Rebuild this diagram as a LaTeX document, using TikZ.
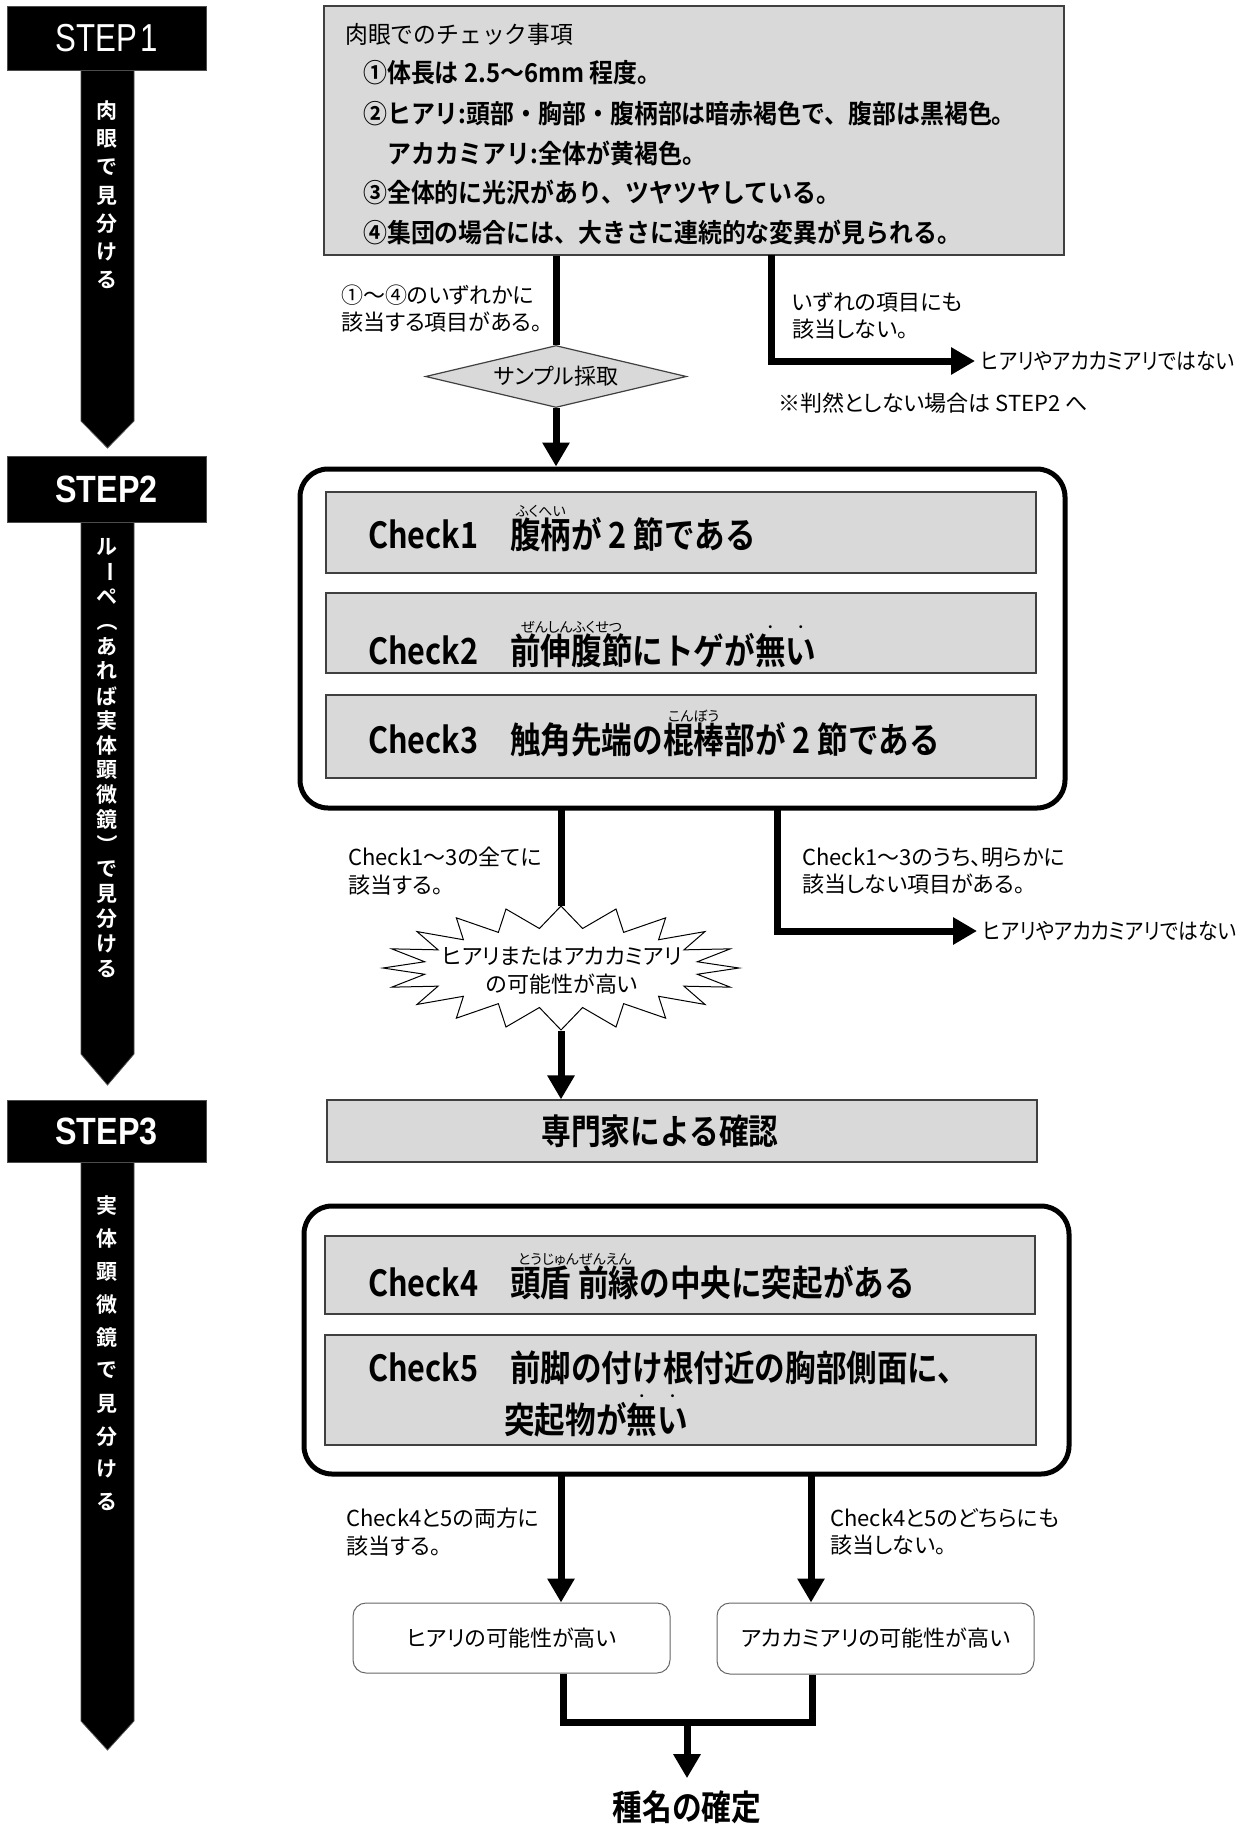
\documentclass[tikz,border=0pt]{standalone}
\usepackage{fontspec}
\usetikzlibrary{arrows.meta,shapes.geometric,calc}
\newfontfamily\jpr{Noto Sans CJK JP}[RawFeature=+palt]
\newfontfamily\jprs{Noto Sans CJK JP}[FakeStretch=0.88,RawFeature=+palt]
\newfontfamily\jprn{Noto Sans CJK JP}[FakeStretch=0.95]
\newfontfamily\jpb{Noto Sans CJK JP Bold}[FakeStretch=0.85]
\newfontfamily\jpbt{Noto Sans CJK JP Bold}[FakeStretch=0.92]
\newfontfamily\jpv{Noto Sans CJK JP Bold}
\newfontfamily\stepA{Liberation Sans}[FakeStretch=0.8]
\newfontfamily\stepB{Liberation Sans Bold}[FakeStretch=0.85]
\definecolor{boxgray}{HTML}{D9D9D9}
\newbox\rbbase
\newcommand\rbfont{\jpr\fontsize{14}{14}\selectfont}
\newcommand\rb[2]{\leavevmode\setbox\rbbase\hbox{#1}\hbox to\wd\rbbase{\hss\smash{\raisebox{32pt}{\makebox[0pt]{\rbfont #2}}}\hss}\kern-\wd\rbbase\box\rbbase}
\newcommand\bt[1]{\rb{#1}{・}}
\tikzset{
  graybox/.style={draw=black!75, line width=1.2pt, fill=boxgray, inner sep=0pt},
  bigframe/.style={draw=black, line width=5pt, rounded corners=28pt, inner sep=0pt},
  resbox/.style={draw=black!60, line width=1pt, rounded corners=13pt, fill=white, inner sep=0pt, font=\jpr\fontsize{22}{22}\selectfont},
  conn/.style={line width=7pt},
  arr/.style={line width=7pt, -{Triangle[length=24pt,width=26pt]}},
  lbl/.style={font=\jpr\fontsize{22}{27.5}\selectfont, align=left, inner sep=0pt},
  nolbl/.style={font=\jprs\fontsize{22.5}{22.5}\selectfont, anchor=west, inner sep=0pt},
  topline/.style={font=\jpbt\fontsize{26}{26}\selectfont, anchor=west, inner sep=0pt},
  checktext/.style={font=\jpb\fontsize{36}{36}\selectfont, anchor=base west, inner sep=0pt},
  stepbox/.style={fill=black, draw=black!70, line width=0.8pt, minimum width=199pt, inner sep=0pt, text=white},
  shaft/.style={fill=black, draw=black!70, line width=0.8pt},
  vch/.style={text=white, font=\jpv\fontsize{21}{21}\selectfont, inner sep=0pt},
}
\begin{document}
\begin{tikzpicture}[x=1pt,y=-1pt]
\useasboundingbox (0,0) rectangle (1248,1825);
\fill[white] (0,0) rectangle (1248,1825);

% ---------- left step arrows ----------
\draw[shaft] (81,60) -- (134,60) -- (134,421) -- (107.5,448) -- (81,421) -- cycle;
\draw[shaft] (81,515) -- (134,515) -- (134,1054) -- (107.5,1085) -- (81,1054) -- cycle;
\draw[shaft] (81,1155) -- (134,1155) -- (134,1721) -- (107.5,1750) -- (81,1721) -- cycle;
\node[stepbox, minimum height=64pt, font=\stepA\fontsize{39}{39}\selectfont] (step1) at (106.5,38) {STEP\kern3pt1};
\node[stepbox, minimum height=66pt, font=\stepB\fontsize{38}{38}\selectfont] (step2) at (106.5,489) {STEP2};
\node[stepbox, minimum height=62pt, font=\stepB\fontsize{38}{38}\selectfont] (step3) at (106.5,1131) {STEP3};

\foreach \c [count=\i from 0] in {肉,眼,で,見,分,け,る}
  \node[vch] (va\i) at (107,{111+28.2*\i}) {\c};
\foreach \c/\r [count=\i from 0] in {ル/0,ー/-90,ペ/0,（/-90,あ/0,れ/0,ば/0,実/0,体/0,顕/0,微/0,鏡/0,）/-90,で/0,見/0,分/0,け/0,る/0}
  \node[vch, rotate=\r] (vb\i) at (107,{547+24.8*\i}) {\c};
\foreach \c [count=\i from 0] in {実,体,顕,微,鏡,で,見,分,け,る}
  \node[vch] (vc\i) at (107,{1206+32.9*\i}) {\c};

% ---------- STEP1 ----------
\node[graybox, minimum width=740pt, minimum height=249pt] (topbox) at (694,130.5) {};
\node[anchor=west, inner sep=0pt, font=\jprn\fontsize{24}{24}\selectfont] (t0) at (345,34) {肉眼でのチェック事項};
\node[topline] (t1) at (363,73) {①体長は 2.5～6mm 程度。};
\node[topline] (t2) at (363,114) {②ヒアリ:頭部・胸部・腹柄部は暗赤褐色で、腹部は黒褐色。};
\node[topline] (t3) at (387,153) {アカカミアリ:全体が黄褐色。};
\node[topline] (t4) at (363,192) {③全体的に光沢があり、ツヤツヤしている。};
\node[topline] (t5) at (363,232) {④集団の場合には、大きさに連続的な変異が見られる。};

\node[diamond, aspect=4.2, draw=black!75, line width=1.2pt, fill=boxgray, minimum width=261pt, minimum height=62pt, inner sep=0pt, font=\jpr\fontsize{22}{22}\selectfont] (samp) at (556,376.5) {サンプル採取};

\node[lbl, anchor=west] (l1) at (341,308.5) {①～④のいずれかに\\該当する項目がある。};
\node[lbl, anchor=west] (l2) at (792,316) {いずれの項目にも\\該当しない。};
\node[nolbl] (no1) at (981,361) {ヒアリやアカカミアリではない};
\node[lbl, anchor=west] (note) at (778,403) {※判然としない場合は STEP2 へ};

\coordinate (r1) at (771,255);
\draw[conn] (topbox.south -| samp.north) -- (samp.north);
\draw[arr] (r1) |- ([xshift=-6pt]no1.west);

% ---------- STEP2 ----------
\node[bigframe, minimum width=765pt, minimum height=339pt] (frame2) at (682.5,638.5) {};
\draw[arr] (samp.south) -- (samp.south |- frame2.north);
\node[graybox, minimum width=710pt, minimum height=81pt] (c1) at (681,532.5) {};
\node[graybox, minimum width=710pt, minimum height=80pt] (c2) at (681,633) {};
\node[graybox, minimum width=710pt, minimum height=83pt] (c3) at (681,736.5) {};
\node[checktext] (c1t) at (368,548) {\makebox[142pt][l]{Check1}\rb{腹柄}{ふくへい}が 2 節である};
\node[checktext] (c2t) at (368,664) {\makebox[142pt][l]{Check2}\rb{前伸腹節}{ぜんしんふくせつ}にトゲが\bt{無}\bt{い}};
\node[checktext] (c3t) at (368,753) {\makebox[142pt][l]{Check3}触角先端の\rb{棍棒}{こんぼう}部が 2 節である};

\coordinate (l2top) at (561,808);
\coordinate (r2) at (777,808);
\coordinate (startop) at (561,906);
\coordinate (starbot) at (561,1031);
\draw[fill=white, line width=1pt, shift={(561,968)}]
  ({178*cos(90)},{-62*sin(90)})
  \foreach \k in {0,...,19} {
    -- ({138*cos(90+18*\k+9)},{-40*sin(90+18*\k+9)})
    -- ({178*cos(90+18*\k+18)},{-62*sin(90+18*\k+18)})
  } -- cycle;
\node[font=\jpr\fontsize{22}{28}\selectfont, align=center, inner sep=0pt] (star) at (562,971) {ヒアリまたはアカカミアリ\\の可能性が高い};
\draw[conn] (l2top) -- (startop);

\node[lbl, anchor=west] (l3) at (348,871) {Check1～3の全てに\\該当する。};
\node[lbl, anchor=west] (l4) at (802,871) {Check1～3のうち、明らかに\\該当しない項目がある。};
\node[nolbl] (no2) at (983,931) {ヒアリやアカカミアリではない};
\draw[arr] (r2) |- ([xshift=-6pt]no2.west);

% ---------- STEP3 ----------
\node[graybox, minimum width=710pt, minimum height=62pt] (expert) at (682,1131) {};
\node[font=\jpb\fontsize{35}{35}\selectfont, inner sep=0pt] (expertt) at (660,1131) {専門家による確認};
\draw[arr] (starbot) -- (starbot |- expert.north);

\node[bigframe, minimum width=765pt, minimum height=268pt] (frame3) at (686.5,1340) {};
\node[graybox, minimum width=710pt, minimum height=78pt] (c4) at (680,1275) {};
\node[graybox, minimum width=711pt, minimum height=110pt] (c5) at (680.5,1390) {};
\node[checktext] (c4t) at (368,1296) {\makebox[142pt][l]{Check4}\rb{頭盾 前縁}{とうじゅんぜんえん}の中央に突起がある};
\node[checktext] (c5t) at (368,1381) {\makebox[142pt][l]{Check5}前脚の付け根付近の胸部側面に、};
\node[checktext] (c5u) at (504,1433) {突起物が\bt{無}\bt{い}};

\node[lbl, anchor=west] (l5) at (346,1532) {Check4と5の両方に\\該当する。};
\node[lbl, anchor=west] (l6) at (830,1532) {Check4と5のどちらにも\\該当しない。};

\node[resbox, minimum width=317pt, minimum height=70pt] (res1) at (511.5,1638) {ヒアリの可能性が高い};
\node[resbox, minimum width=317pt, minimum height=71pt] (res2) at (875.5,1638.5) {アカカミアリの可能性が高い};

\coordinate (l3top) at (561,1474);
\coordinate (r3top) at (811,1474);
\draw[arr] (l3top) -- (l3top |- res1.north);
\draw[arr] (r3top) -- (r3top |- res2.north);

\coordinate (mL) at (563,1722);
\coordinate (mR) at (812,1722);
\coordinate (mM) at (687,1722);
\node[font=\jpb\fontsize{35}{35}\selectfont, inner sep=0pt] (final) at (687,1807) {種名の確定};
\draw[conn] (res1.south -| mL) -- (mL) -- (mR) -- (res2.south -| mR);
\draw[arr, shorten >=12pt] (mM) -- (final.north);
\end{tikzpicture}
\end{document}
